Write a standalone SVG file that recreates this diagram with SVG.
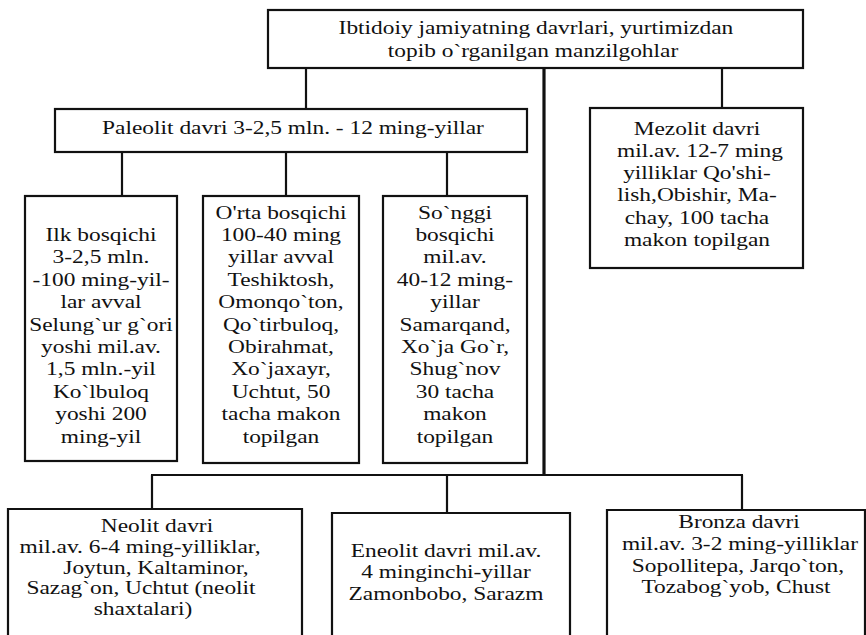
<svg xmlns="http://www.w3.org/2000/svg" width="866" height="635" viewBox="0 0 866 635">
<style>
.box{fill:#fff;stroke:#111;stroke-width:2.2}
.open{fill:none;stroke:#111;stroke-width:2.2}
.ln{fill:none;stroke:#111;stroke-width:2.2}
.main{fill:none;stroke:#111;stroke-width:3.2}
text{font-family:"Liberation Serif","Times New Roman",serif;font-size:19.5px;fill:#111;text-anchor:middle;transform-box:fill-box;transform-origin:center;transform:scaleX(1.2)}
</style>
<rect width="866" height="635" fill="#fff"/>
<g id="connectors">
<line class="ln" x1="306" y1="68" x2="306" y2="109"/>
<line class="ln" x1="722" y1="68" x2="722" y2="108"/>
<line class="main" x1="544" y1="68" x2="544" y2="476"/>
<line class="ln" x1="122" y1="152" x2="122" y2="196"/>
<line class="ln" x1="286" y1="152" x2="286" y2="196"/>
<line class="ln" x1="447" y1="152" x2="447" y2="196"/>
<line class="ln" x1="151" y1="475" x2="743" y2="475"/>
<line class="ln" x1="152" y1="475" x2="152" y2="509"/>
<line class="ln" x1="447" y1="475" x2="447" y2="513"/>
<line class="ln" x1="742" y1="475" x2="742" y2="510"/>
</g>
<g id="root">
<rect class="box" x="268" y="10" width="535" height="58"/>
<text x="536" y="34">Ibtidoiy jamiyatning davrlari, yurtimizdan</text>
<text x="533" y="57">topib o`rganilgan manzilgohlar</text>
</g>
<g id="paleolit">
<rect class="box" x="55" y="109" width="472" height="43"/>
<text x="293" y="134">Paleolit davri 3-2,5 mln. - 12 ming-yillar</text>
</g>
<g id="mezolit">
<rect class="box" x="590" y="108" width="213" height="160"/>
<text x="697" y="135">Mezolit davri</text>
<text x="700" y="157">mil.av. 12-7 ming</text>
<text x="697" y="179">yilliklar Qo'shi-</text>
<text x="697" y="201">lish,Obishir, Ma-</text>
<text x="697" y="224">chay, 100 tacha</text>
<text x="697" y="246">makon topilgan</text>
</g>
<g id="ilk">
<rect class="box" x="25" y="196" width="152" height="265"/>
<text x="101" y="241">Ilk bosqichi</text>
<text x="101" y="263">3-2,5 mln.</text>
<text x="101" y="286">-100 ming-yil-</text>
<text x="101" y="308">lar avval</text>
<text x="101" y="331">Selung`ur g`ori</text>
<text x="101" y="353">yoshi mil.av.</text>
<text x="101" y="375">1,5 mln.-yil</text>
<text x="101" y="398">Ko`lbuloq</text>
<text x="101" y="420">yoshi 200</text>
<text x="101" y="443">ming-yil</text>
</g>
<g id="orta">
<rect class="box" x="203" y="196" width="156" height="267"/>
<text x="281" y="219">O'rta bosqichi</text>
<text x="281" y="241">100-40 ming</text>
<text x="281" y="263">yillar avval</text>
<text x="281" y="286">Teshiktosh,</text>
<text x="281" y="308">Omonqo`ton,</text>
<text x="281" y="331">Qo`tirbuloq,</text>
<text x="281" y="353">Obirahmat,</text>
<text x="281" y="375">Xo`jaxayr,</text>
<text x="281" y="398">Uchtut, 50</text>
<text x="281" y="420">tacha makon</text>
<text x="281" y="443">topilgan</text>
</g>
<g id="songgi">
<rect class="box" x="383" y="196" width="144" height="267"/>
<text x="455" y="219">So`nggi</text>
<text x="455" y="241">bosqichi</text>
<text x="455" y="263">mil.av.</text>
<text x="455" y="286">40-12 ming-</text>
<text x="455" y="308">yillar</text>
<text x="455" y="331">Samarqand,</text>
<text x="455" y="353">Xo`ja Go`r,</text>
<text x="455" y="375">Shug`nov</text>
<text x="455" y="398">30 tacha</text>
<text x="455" y="420">makon</text>
<text x="455" y="443">topilgan</text>
</g>
<g id="neolit">
<path class="open" d="M8,640 V509 H302 V640"/>
<text x="157" y="532">Neolit davri</text>
<text x="140" y="553">mil.av. 6-4 ming-yilliklar,</text>
<text x="156" y="574">Joytun, Kaltaminor,</text>
<text x="141" y="594">Sazag`on, Uchtut (neolit</text>
<text x="143" y="615">shaxtalari)</text>
</g>
<g id="eneolit">
<path class="open" d="M332,640 V513 H570 V640"/>
<text x="446" y="557">Eneolit davri mil.av.</text>
<text x="446" y="578">4 minginchi-yillar</text>
<text x="446" y="600">Zamonbobo, Sarazm</text>
</g>
<g id="bronza">
<path class="open" d="M607,640 V510 H865 V640"/>
<text x="739" y="528">Bronza davri</text>
<text x="740" y="550">mil.av. 3-2 ming-yilliklar</text>
<text x="738" y="572">Sopollitepa, Jarqo`ton,</text>
<text x="736" y="593">Tozabog`yob, Chust</text>
</g>
</svg>
